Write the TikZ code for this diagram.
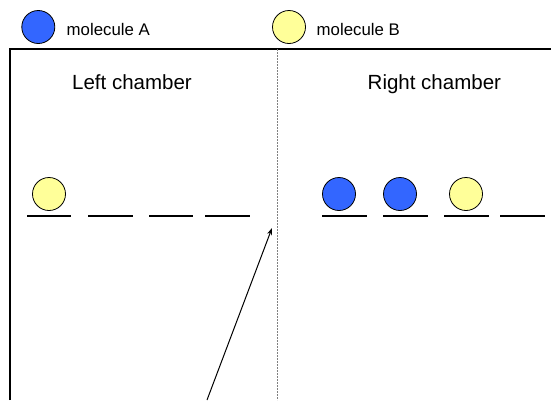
\documentclass[tikz,border=0pt]{standalone}
\usepackage{fontspec}
\setmainfont{Liberation Sans}
\usetikzlibrary{arrows.meta}

\definecolor{blueA}{HTML}{3366FF}
\definecolor{yellowB}{HTML}{FFFF99}

\tikzset{
    molecule/.style={circle, draw=black, line width=0.8pt, minimum size=33pt, inner sep=0pt},
    molA/.style={molecule, fill=blueA},
    molB/.style={molecule, fill=yellowB},
    slot/.style={line width=1.3pt},
    legend/.style={anchor=base west, inner sep=0pt, font=\fontsize{16.8}{19}\selectfont},
    chamber/.style={anchor=base west, inner sep=0pt, font=\fontsize{20.5}{24}\selectfont},
    divider/.style={gray, line width=1.1pt, dash pattern=on 2pt off 1pt}
}

\begin{document}
\begin{tikzpicture}[x=1pt, y=-1pt]
    \useasboundingbox (0,0) rectangle (551,400);

            % legend
            \node[molA] (legA) at (38.3, 27) {};
                \node[legend] (legAtext) at (66.5, 35) {molecule A};
            \node[molB] (legB) at (289, 27) {};
                \node[legend] (legBtext) at (316.5, 35) {molecule B};

            % chambers
            \draw[line width=1.2pt] (10,400) -- (10,49) -- (555,49);
            \draw[divider] (277.3,49) -- (277.3,400);
                \node[chamber] (left) at (72, 89) {Left chamber};
                \node[chamber] (right) at (367.5, 89) {Right chamber};

            % left slots
            \draw[slot] (27,216) -- (71,216);
            \draw[slot] (88,216) -- (132.5,216);
            \draw[slot] (149,216) -- (193,216);
            \draw[slot] (205,216) -- (250,216);
                \node[molB] (l1) at (49, 194) {};

            % right slots
            \draw[slot] (322,216) -- (366.5,216);
            \draw[slot] (383,216) -- (427.5,216);
            \draw[slot] (444,216) -- (489,216);
            \draw[slot] (500,216) -- (545,216);
                \node[molA] (r1) at (339, 194) {};
                \node[molA] (r2) at (400, 194) {};
                \node[molB] (r3) at (466, 194) {};

            % arrow
            \coordinate (tail) at (207,400);
            \coordinate (head) at (272,228);
            \draw[-{Stealth[length=7pt, width=5pt]}, line width=1pt] (tail) -- (head);
\end{tikzpicture}
\end{document}
